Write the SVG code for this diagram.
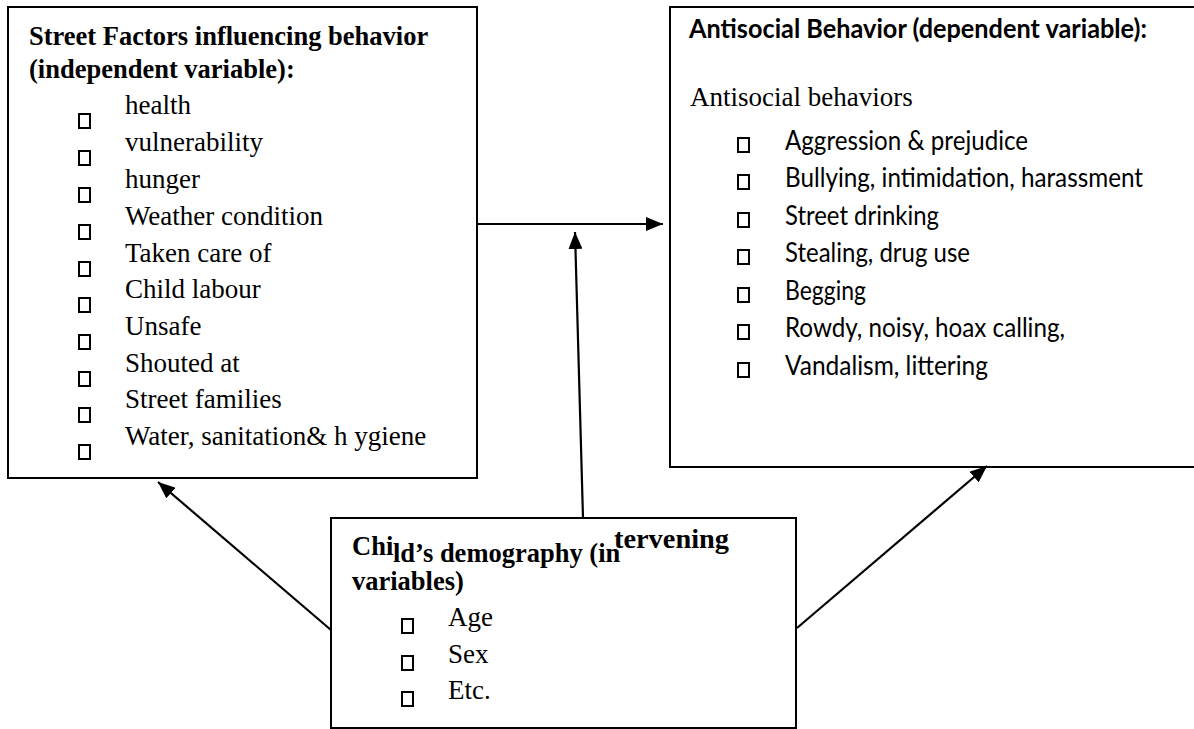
<svg xmlns="http://www.w3.org/2000/svg" width="1194" height="729" viewBox="0 0 1194 729">
<style>
.box{fill:#fff;stroke:#000;stroke-width:2}
.bul{fill:none;stroke:#000;stroke-width:2}
.ser{font-family:"Liberation Serif","Times New Roman",serif;font-size:27px;fill:#000}
.serb{font-family:"Liberation Serif","Times New Roman",serif;font-size:26.5px;font-weight:bold;fill:#000}
.sans{font-family:Lato,"Liberation Sans",sans-serif;font-size:26px;fill:#000}
.sansb{font-family:Lato,"Liberation Sans",sans-serif;font-size:26px;font-weight:bold;fill:#000}
.con{stroke:#000;stroke-width:2.2;fill:none}
</style>
<defs>
<marker id="ah" markerUnits="userSpaceOnUse" markerWidth="18" markerHeight="14" refX="17" refY="7" orient="auto">
<path d="M0,0 L17,7 L0,14 z" fill="#000"/>
</marker>
</defs>
<rect width="1194" height="729" fill="#fff"/>
<g id="street-factors">
<rect class="box" x="8" y="7" width="469" height="471"/>
<text class="serb" x="29" y="45">Street Factors influencing behavior</text>
<text class="serb" x="29" y="78">(independent variable):</text>
<g>
<rect class="bul" x="79" y="114" width="11" height="14"/>
<rect class="bul" x="79" y="151" width="11" height="14"/>
<rect class="bul" x="79" y="188" width="11" height="14"/>
<rect class="bul" x="79" y="225" width="11" height="14"/>
<rect class="bul" x="79" y="262" width="11" height="14"/>
<rect class="bul" x="79" y="298" width="11" height="14"/>
<rect class="bul" x="79" y="335" width="11" height="14"/>
<rect class="bul" x="79" y="372" width="11" height="14"/>
<rect class="bul" x="79" y="408" width="11" height="14"/>
<rect class="bul" x="79" y="445" width="11" height="14"/>
</g>
<text class="ser" x="125" y="114">health</text>
<text class="ser" x="125" y="151">vulnerability</text>
<text class="ser" x="125" y="188">hunger</text>
<text class="ser" x="125" y="225">Weather condition</text>
<text class="ser" x="125" y="262">Taken care of</text>
<text class="ser" x="125" y="298">Child labour</text>
<text class="ser" x="125" y="335">Unsafe</text>
<text class="ser" x="125" y="372">Shouted at</text>
<text class="ser" x="125" y="408">Street families</text>
<text class="ser" x="125" y="445">Water, sanitation&amp; h ygiene</text>
</g>
<g id="antisocial-behavior">
<rect class="box" x="670" y="7" width="530" height="460"/>
<text class="sansb" x="689" y="38" textLength="458" lengthAdjust="spacingAndGlyphs">Antisocial Behavior (dependent variable):</text>
<text class="ser" x="690" y="106">Antisocial behaviors</text>
<g>
<rect class="bul" x="738" y="138" width="11" height="14"/>
<rect class="bul" x="738" y="175" width="11" height="14"/>
<rect class="bul" x="738" y="213" width="11" height="14"/>
<rect class="bul" x="738" y="250" width="11" height="14"/>
<rect class="bul" x="738" y="288" width="11" height="14"/>
<rect class="bul" x="738" y="325" width="11" height="14"/>
<rect class="bul" x="738" y="363" width="11" height="14"/>
</g>
<text class="sans" x="785" y="150" textLength="243" lengthAdjust="spacingAndGlyphs">Aggression &amp; prejudice</text>
<text class="sans" x="785" y="187" textLength="358" lengthAdjust="spacingAndGlyphs">Bullying, intimidation, harassment</text>
<text class="sans" x="785" y="225" textLength="154" lengthAdjust="spacingAndGlyphs">Street drinking</text>
<text class="sans" x="785" y="262" textLength="185" lengthAdjust="spacingAndGlyphs">Stealing, drug use</text>
<text class="sans" x="785" y="300" textLength="81" lengthAdjust="spacingAndGlyphs">Begging</text>
<text class="sans" x="785" y="337" textLength="280" lengthAdjust="spacingAndGlyphs">Rowdy, noisy, hoax calling,</text>
<text class="sans" x="785" y="375" textLength="203" lengthAdjust="spacingAndGlyphs">Vandalism, littering</text>
</g>
<g id="child-demography">
<rect class="box" x="331" y="518" width="465" height="210"/>
<text class="serb" x="352" y="555">Chi</text>
<text class="serb" x="393" y="562">ld’s demography (in</text>
<text class="serb" x="614" y="548" textLength="115" lengthAdjust="spacingAndGlyphs">tervening</text>
<text class="serb" x="352" y="590">variables)</text>
<rect class="bul" x="402" y="619" width="11" height="14"/>
<rect class="bul" x="402" y="656" width="11" height="14"/>
<rect class="bul" x="402" y="692" width="11" height="14"/>
<text class="ser" x="448" y="626">Age</text>
<text class="ser" x="448" y="663">Sex</text>
<text class="ser" x="448" y="699">Etc.</text>
</g>
<g id="connectors">
<line class="con" x1="477" y1="224" x2="663" y2="224" marker-end="url(#ah)"/>
<line class="con" x1="583" y1="518" x2="575" y2="232" marker-end="url(#ah)"/>
<line class="con" x1="331" y1="630" x2="158" y2="482" marker-end="url(#ah)"/>
<line class="con" x1="797" y1="628" x2="987" y2="466" marker-end="url(#ah)"/>
</g>
</svg>
